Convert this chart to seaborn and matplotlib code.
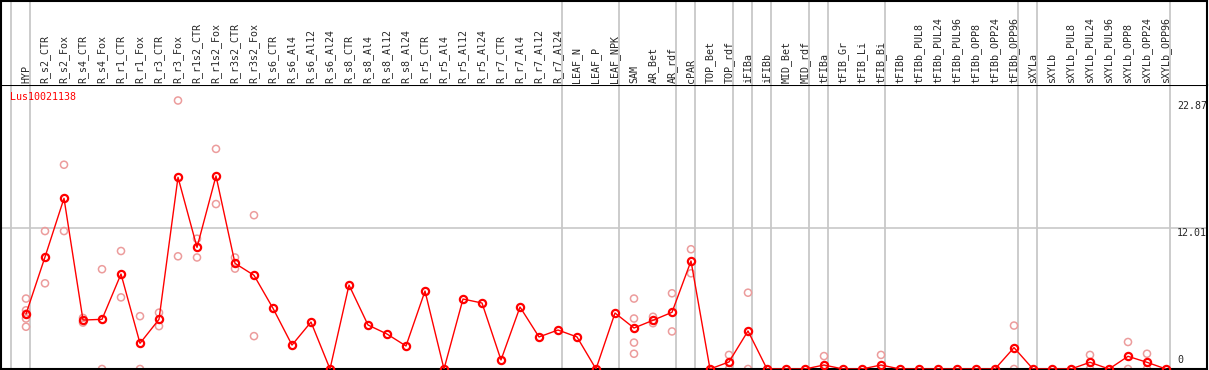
import numpy as np
import pandas as pd
import seaborn as sns
import matplotlib.pyplot as plt

# sample columns, left to right
samples = [
    "HYP", "R_s2_CTR", "R_s2_Fox", "R_s4_CTR", "R_s4_Fox", "R_r1_CTR", "R_r1_Fox",
    "R_r3_CTR", "R_r3_Fox", "R_r1s2_CTR", "R_r1s2_Fox", "R_r3s2_CTR", "R_r3s2_Fox",
    "R_s6_CTR", "R_s6_Al4", "R_s6_Al12", "R_s6_Al24", "R_s8_CTR", "R_s8_Al4",
    "R_s8_Al12", "R_s8_Al24", "R_r5_CTR", "R_r5_Al4", "R_r5_Al12", "R_r5_Al24",
    "R_r7_CTR", "R_r7_Al4", "R_r7_Al12", "R_r7_Al24", "LEAF_N", "LEAF_P", "LEAF_NPK",
    "SAM", "AR_Bet", "AR_rdf", "cPAR", "TOP_Bet", "TOP_rdf", "iFIBa", "iFIBb",
    "MID_Bet", "MID_rdf", "tFIBa", "tFIB_Gr", "tFIB_Li", "tFIB_Bi", "tFIBb",
    "tFIBb_PUL8", "tFIBb_PUL24", "tFIBb_PUL96", "tFIBb_OPP8", "tFIBb_OPP24",
    "tFIBb_OPP96", "sXYLa", "sXYLb", "sXYLb_PUL8", "sXYLb_PUL24", "sXYLb_PUL96",
    "sXYLb_OPP8", "sXYLb_OPP24", "sXYLb_OPP96",
]

# mean expression per sample
means = [
    4.68, 9.54, 14.54, 4.17, 4.23, 8.09, 2.19, 4.23, 16.33, 10.36, 16.44, 9.0, 7.98,
    5.17, 2.04, 4.0, 0.0, 7.15, 3.75, 2.98, 1.96, 6.64, 0.0, 5.96, 5.62,
    0.77, 5.28, 2.73, 3.32, 2.73, 0.0, 4.77,
    3.49, 4.15, 4.83, 9.2, 0.0, 0.6, 3.24, 0.0,
    0.0, 0.0, 0.34, 0.0, 0.0, 0.34, 0.0,
    0.0, 0.0, 0.0, 0.0, 0.0, 1.82,
    0.0, 0.0, 0.0, 0.57, 0.0, 1.08, 0.57, 0.0,
]

# individual replicates
replicates = {
    "HYP": [6.0, 5.0, 4.7, 4.3, 3.6],
    "R_s2_CTR": [11.75, 7.3],
    "R_s2_Fox": [17.4, 11.75],
    "R_s4_CTR": [4.35, 3.95],
    "R_s4_Fox": [8.5, 0.0],
    "R_r1_CTR": [10.05, 6.1],
    "R_r1_Fox": [4.5, 0.0],
    "R_r3_CTR": [4.8, 3.65],
    "R_r3_Fox": [22.87, 9.6],
    "R_r1s2_CTR": [11.1, 9.5],
    "R_r1s2_Fox": [18.75, 14.05],
    "R_r3s2_CTR": [9.5, 8.55],
    "R_r3s2_Fox": [13.1, 2.8],
    "SAM": [6.0, 4.3, 2.25, 1.3],
    "AR_Bet": [4.45, 3.9],
    "AR_rdf": [6.45, 3.2],
    "cPAR": [10.2, 8.15],
    "TOP_rdf": [1.2, 0.0],
    "iFIBa": [6.5, 0.0],
    "tFIBa": [1.1, 0.0],
    "tFIB_Bi": [1.2, 0.0],
    "tFIBb_OPP96": [3.7, 0.0],
    "sXYLb_PUL24": [1.2, 0.0],
    "sXYLb_OPP8": [2.3, 0.0],
    "sXYLb_OPP24": [1.3, 0.0],
}

# a grey separator follows each of these
group_ends = ["HYP", "R_r7_Al24", "LEAF_NPK", "AR_rdf", "cPAR", "TOP_rdf", "iFIBa",
              "iFIBb", "MID_rdf", "tFIBa", "tFIB_Bi", "tFIBb_OPP96", "sXYLa", "sXYLb_OPP96"]

y_ticks = [22.87, 12.01, 0]
gene = "Lus10021138"

pos = {s: i for i, s in enumerate(samples)}
mean_df = pd.DataFrame({"pos": range(len(samples)), "value": means})
rep_df = pd.DataFrame([(pos[s], v) for s, vals in replicates.items() for v in vals],
                      columns=["pos", "value"])

sns.set_style("white")
plt.rcParams["font.family"] = ["DejaVu Sans Mono", "DejaVu Sans"]
plt.rcParams["font.size"] = 7.2

W, H = 1209, 370
fig = plt.figure(figsize=(W / 100, H / 100), dpi=100)
x0, x1 = 1 / W, 1207 / W
head_y = 85
ax = fig.add_axes([x0, 1 / H, x1 - x0, (369 - head_y) / H])
hax = fig.add_axes([x0, 1 - head_y / H, x1 - x0, (head_y - 0.5) / H])

xlim = ((1 - 26) / 19, (1207 - 26) / 19)
ylim = (0, (369 - head_y) / 11.74)
for a in (ax, hax):
    a.set_xlim(*xlim)
    a.set_xticks([])
    a.set_yticks([])
    a.set_xlabel("")
    a.set_ylabel("")
    for sp in a.spines.values():
        sp.set_color("black")
        sp.set_linewidth(1.5)
hax.set_ylim(0, 1)
hax.spines["bottom"].set_visible(False)

seps = [-1 + 0.22] + [pos[s] + 0.22 for s in group_ends]
for a in (ax, hax):
    for sx in seps:
        a.axvline(sx, color="#c4c4c4", lw=1.2, zorder=0)
ax.axhline(y_ticks[1], color="#c8c8c8", lw=1.2, zorder=0)

sns.scatterplot(data=rep_df, x="pos", y="value", ax=ax, marker="o", s=26,
                facecolor="none", edgecolor="#ec9c9c", linewidth=1.1, zorder=2)
sns.lineplot(data=mean_df, x="pos", y="value", ax=ax, color="red", linewidth=1.0,
             marker="o", markersize=5.2, markerfacecolor="none",
             markeredgecolor="red", markeredgewidth=1.6, zorder=3)
ax.set_ylim(*ylim)
ax.set_xlabel("")
ax.set_ylabel("")

for s in samples:
    hax.text(pos[s], 0.025, s, rotation=90, ha="center", va="bottom", fontsize=7.2)

lx = (1177 - 26) / 19
ax.text(lx, y_ticks[0], f"{y_ticks[0]:g}", ha="left", va="top", fontsize=7.2)
ax.text(lx, y_ticks[1], f"{y_ticks[1]:g}", ha="left", va="top", fontsize=7.2)
ax.text(lx, 0.3, "0", ha="left", va="bottom", fontsize=7.2)
fig.text(10 / W, 1 - 97 / H, gene, color="red", ha="left", va="center", fontsize=7.2)

fig.savefig("out.png", dpi=100)
